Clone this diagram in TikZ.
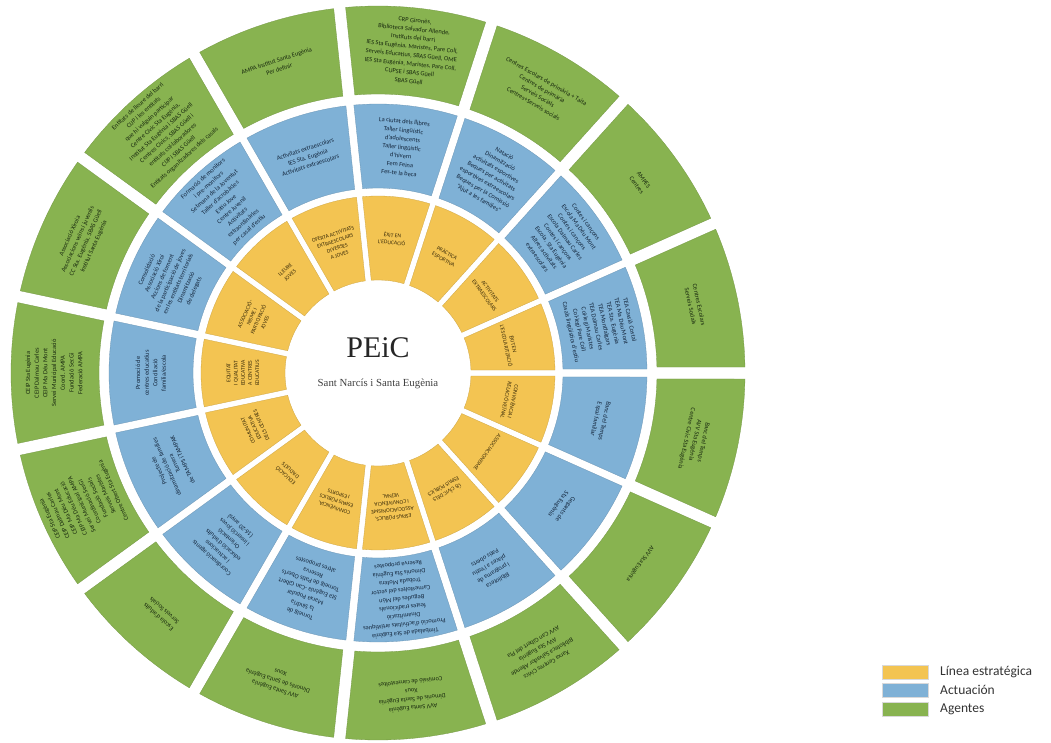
\documentclass[tikz,border=0pt]{standalone}
\usepackage{fontspec}
\setmainfont{Carlito}
\newfontfamily\serifcenter{Liberation Serif}
\definecolor{ycol}{RGB}{243,196,82}
\definecolor{bcol}{RGB}{127,177,214}
\definecolor{gcol}{RGB}{136,179,80}
\definecolor{ytc}{RGB}{60,45,10}
\definecolor{btc}{RGB}{20,38,60}
\definecolor{gtc}{RGB}{25,42,15}
\newcommand\ringsector[5]{%
  \pgfmathsetmacro\segA{24*#1+asin(#4/(2*#2))}%
  \pgfmathsetmacro\segB{24*#1+24-asin(#4/(2*#2))}%
  \pgfmathsetmacro\segC{24*#1+asin(#4/(2*#3))}%
  \pgfmathsetmacro\segD{24*#1+24-asin(#4/(2*#3))}%
  \path[fill=#5, draw=#5!85!black, line width=0.3pt] (\segA:#2pt) -- (\segC:#3pt)
    arc[start angle=\segC, end angle=\segD, radius=#3pt] -- (\segB:#2pt)
    arc[start angle=\segB, end angle=\segA, radius=#2pt] -- cycle;%
}
\newcommand\ytext[2]{\node[ytxt, rotate=24*#1-78] (y#1) at ({24*#1+12}:135pt) {#2};}
\newcommand\btext[2]{\node[btxt, rotate=24*#1-78] (b#1) at ({24*#1+12}:227pt) {#2};}
\newcommand\gtext[2]{\node[gtxt, rotate=24*#1-78] (g#1) at ({24*#1+12}:324pt) {#2};}
\tikzset{
  ytxt/.style={align=center, inner sep=0pt, text=ytc, font=\fontsize{5.6}{7.2}\selectfont},
  btxt/.style={align=center, inner sep=0pt, text=btc, font=\fontsize{6.4}{8.6}\selectfont},
  gtxt/.style={align=center, inner sep=0pt, text=gtc, font=\fontsize{6.4}{8.7}\selectfont},
  lbox/.style={minimum width=46pt, minimum height=14pt, inner sep=0pt, draw=black!15, line width=0.4pt},
  ltxt/.style={anchor=west, inner sep=0pt, text=black!80, font=\fontsize{13.5}{15}\selectfont},
}
\begin{document}
\begin{tikzpicture}
\useasboundingbox (-378pt,-369pt) rectangle (673pt,373pt);
\fill[white] (-378pt,-369pt) rectangle (673pt,373pt);
\foreach \k in {0,...,14} {
  \ringsector{\k}{93}{177}{6}{ycol}
  \ringsector{\k}{185}{269}{8}{bcol}
  \ringsector{\k}{279}{367}{12}{gcol}
}
% centre
\node[font=\serifcenter\fontsize{30}{32}\selectfont, text=black!85] (peic) at (0pt,25pt) {PEiC};
\node[font=\serifcenter\fontsize{10.8}{12}\selectfont, text=black!75] (barri) at (0pt,-11pt) {Sant Narcís i Santa Eugènia};
% yellow ring
\ytext{0}{ÈXIT EN\\L'ESCOLARITZACIÓ}
\ytext{1}{ACTIVITATS\\EXTRAESCOLARS}
\ytext{2}{PRÀCTICA\\ESPORTIVA}
\ytext{3}{ÈXIT EN\\L'EDUCACIÓ}
\ytext{4}{OFERTA ACTIVITATS\\EXTRAESCOLARS\\DIVERSES\\A JOVES}
\ytext{5}{LLEURE\\JOVES}
\ytext{6}{ASSOCIACIÓ-\\NISME I\\PARTICIPACIÓ\\JOVES}
\ytext{7}{EQUITAT\\I QUALITAT\\EDUCATIVA\\A CENTRES\\EDUCATIUS}
\ytext{8}{COMUNITAT\\EDUCATIVA\\DELS CENTRES}
\ytext{9}{EDUCACIÓ\\D'ADULTS}
\ytext{10}{CONVIVÈNCIA,\\ESPAIS PÚBLICS\\I ESPORTS}
\ytext{11}{ESPAIS PÚBLICS,\\ASSOCIACIONISME\\I CONVIVÈNCIA\\VEÏNAL}
\ytext{12}{ÚS CÍVIC DELS\\ESPAIS PÚBLICS}
\ytext{13}{ASSOCIACIONISME}
\ytext{14}{CONVIVÈNCIA I\\RELACIÓ VEÏNAL}
% blue ring
\btext{0}{TEA Cassià Costal\\TEA Ma Déu Mont\\TEA Sta. Eugènia\\TEA Montfalgars\\TEA Dalmau Carles\\Col·legi Maristes\\Col·legi Pare Coll\\Casals lingüístics d'estiu}
\btext{1}{Contes i cançons\\Escola Ma Déu Mont\\Contes i cançons\\Escola Dalmau Carles\\Contes i cançons\\Escola. Sta Eugènia\\Altres activitats\\extraescolars}
\btext{2}{Natació\\Dinamització\\activitats esportives\\Beques per activitats\\esportives extraescolars\\Beques per la Comissió\\“Ajut a les famílies”}
\btext{3}{La ciutat dels llibres\\Taller Lingüístic\\d'adolescents\\Taller lingüístic\\d'hivern\\Fem Feina\\Fes-te la beca}
\btext{4}{Activitats extraescolars\\IES Sta. Eugènia\\Activitats extraescolars}
\btext{5}{Formació de monitors\\i pre-monitors\\Setmana de la Joventut\\Taller d'acrobàcies\\Estiu Jove\\Centre Juvenil\\Activitats\\extraordinàries\\per casal d'estiu}
\btext{6}{Consolidació\\Associació Xiroi\\Accions de foment\\de la participació de joves\\en les entitats territorials\\Dinamització\\de delegats}
\btext{7}{Promoció de\\centres educatius\\Conciliació\\família/escola}
\btext{8}{Projecte de\\dinamització de famílies\\Turnera\\de TAMPS i TAMPAK}
\btext{9}{Coordinació agents\\i actuacions\\educació d'adults\\Orientació\\i inserció joves\\(16-20 anys)}
\btext{10}{Torneig de\\la Síndria\\Marxa Popular\\Sta Eugènia -Can Gibert\\Torneig de Patis Oberts\\Reserva\\altres propostes}
\btext{11}{Timbalada de Sta Eugènia\\Promoció d'activitats artístiques\\Dinamització\\festes tradicionals\\Begudes del Món\\Carnestoltes del sector\\Trobada Motera\\Dimonis Sta Eugènia\\Reserva propostes}
\btext{12}{Biblioteca\\i programa de\\places a l'estiu\\Patis oberts}
\btext{13}{Gegants de\\Sta Eugènia}
\btext{14}{Banc del Temps\\Espai familiar}
% green ring
\gtext{0}{Centres Escolars\\Serveis Socials}
\gtext{1}{AMPES\\Centres}
\gtext{2}{Centres Escolars de primària + Taita\\Centres de primària\\Serveis Socials\\Centres+Serveis socials}
\gtext{3}{CRP Gironès,\\Biblioteca Salvador Allende,\\Instituts del barri\\IES Sta  Eugènia, Maristes, Pare Coll,\\Serveis Educatius, SBAS Güell, OME\\IES Sta  Eugènia, Maristes, Pare Coll,\\CUPSE i SBAS Güell\\SBAS Güell}
\gtext{4}{AMPA Institut Santa Eugènia\\Per definir}
\gtext{5}{Entitats de lleure del barri\\CIJP i les entitats\\que hi vulguin participar\\Centre Cívic Sta Eugènia,\\Institut Sta Eugènia i SBAS Güell\\Centres Cívics, SBAS Güell i\\entitats col·laboradores\\CIJP i SBAS Güell\\Entitats organitzadores dels casals}
\gtext{6}{Associació Xiroia\\Associacions veïns i juvenils\\CC Sta. Eugènia, SBAS Güell\\Institut Santa Eugènia}
\gtext{7}{CEIP Sta Eugènia\\CEIP Dalmau Carles\\CEIP Ma Déu Mont\\Servei Municipal Educació\\Coord. AMPA\\Fundació Ser.Gi\\Federació AMPA}
\gtext{8}{CEIP Sta Eugènia\\CEIP Dalmau Carles\\CEIP Ma Déu Mont\\CEIP Ma Déu Educació\\Servei Municipal AMPA\\Coordinació Ser.Gi\\Fundació Socials\\Serveis Maristes\\Centre Obert Sta Eugènia}
\gtext{9}{Escola d'adults\\Serveis Socials}
\gtext{10}{AVV Santa Eugènia\\Dimonis de Santa Eugènia\\Xous}
\gtext{11}{AVV Santa Eugènia\\Dimonis de Santa Eugènia\\Xous\\Comissió de carnestoltes}
\gtext{12}{Xarxa Centres Cívics\\Biblioteca Salvador Allende\\AVV Sta Eugènia\\AVV Can Gibert del Pla}
\gtext{13}{AVV Sta Eugènia}
\gtext{14}{Banc del Temps\\AVV Sta Eugènia\\Centre Cívic Sta Eugènia}
% legend
\node[lbox, fill=ycol] (l1) at (527pt,-299pt) {};
\node[lbox, fill=bcol] (l2) at (527pt,-317pt) {};
\node[lbox, fill=gcol] (l3) at (527pt,-336pt) {};
\node[ltxt] (t1) at (562pt,-299pt) {Línea estratégica};
\node[ltxt] (t2) at (562pt,-317pt) {Actuación};
\node[ltxt] (t3) at (562pt,-336pt) {Agentes};
\end{tikzpicture}
\end{document}
